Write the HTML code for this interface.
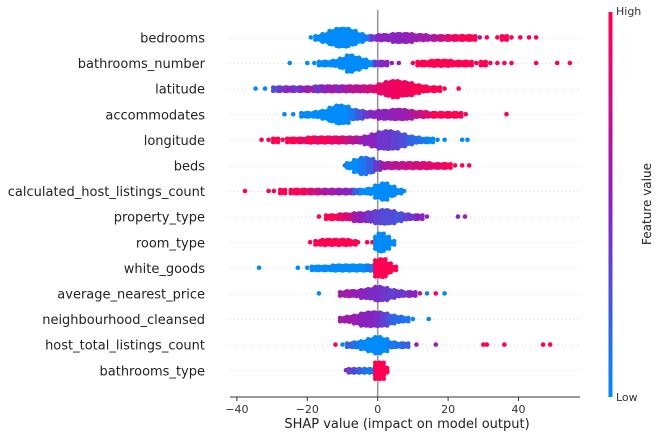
<!DOCTYPE html>
<html><head><meta charset="utf-8">
<style>
html,body{margin:0;padding:0;background:#fff;}
svg{display:block;font-family:"DejaVu Sans","Liberation Sans",sans-serif;}
</style></head>
<body>
<svg id="chart" width="662" height="438" viewBox="0 0 662 438">
<defs>
<linearGradient id="cb" x1="0" y1="1" x2="0" y2="0">
<stop offset="0" stop-color="#008bfb"/>
<stop offset="0.5" stop-color="#8a22c0"/>
<stop offset="1" stop-color="#ff0052"/>
</linearGradient>
</defs>
<g id="grid"></g>
<line x1="377.7" y1="10" x2="377.7" y2="397" stroke="#999" stroke-width="1.6"/>
<g id="dots"></g>
<g id="labels"></g>
<line x1="230" y1="397" x2="580" y2="397" stroke="#333" stroke-width="1"/>
<g id="xticks"></g>
<text x="407" y="428" font-size="13" text-anchor="middle" fill="#222">SHAP value (impact on model output)</text>
<rect x="608.5" y="12" width="4" height="385" fill="url(#cb)"/>
<text x="616" y="15" font-size="11" fill="#333">High</text>
<text x="616" y="401" font-size="11" fill="#333">Low</text>
<text x="0" y="0" font-size="12" fill="#222" text-anchor="middle" transform="translate(651,204) rotate(-90)">Feature value</text>
</svg>
<script>
const features = ["bedrooms","bathrooms_number","latitude","accommodates","longitude","beds","calculated_host_listings_count","property_type","room_type","white_goods","average_nearest_price","neighbourhood_cleansed","host_total_listings_count","bathrooms_type"];
const xTicks = [-40,-20,0,20,40];
const bedroomsBins = [[-19,1,0],[-17,2,0],[-15,4,0],[-13,7,0],[-11,9,0],[-9,9,0],[-7,7,0],[-5,4,0],[-3,2,0.1],[-1,2,0.4],[1,3,0.5],[3,3,0.5],[5,4,0.5],[7,4,0.5],[9,4,0.55],[11,3,0.55],[13,3,0.6],[15,2,0.6],[17,2,0.7],[19,2,0.8],[21,2,0.9],[23,2,0.95],[25,2,1],[27,2,1],[29,1,0.6],[31,1,1],[34,1,1],[36,2,1],[38,1,1],[40.5,1,1],[43,1,1],[45,1,1]];
const bathroomsNumberBins = [[-25,1,0],[-20,1,0],[-18,1,0],[-16,2,0],[-14,2,0],[-12,3,0],[-10,5,0],[-8,8,0],[-6,6,0],[-4,4,0],[-2,2,0],[0,2,0.4],[2,2,0.5],[4,1,0.5],[6,1,0.5],[10,1,1],[12,2,1],[14,2,1],[16,3,1],[18,3,1],[20,3,1],[22,2,1],[24,2,1],[26,2,1],[28,1,1],[30,2,1],[32,1,1],[34,1,1],[36,1,1],[38,1,1],[45,1,1],[51,1,1],[54.6,1,1]];
const latitudeBins = [[-34.7,1,0],[-32,1,0],[-29,2,0.3],[-27,2,0.4],[-25,2,0.5],[-23,2,0.4],[-21,2,0.5],[-19,2,0.6],[-17,3,0.4],[-15,3,0.5],[-13,3,0.6],[-11,3,0.5],[-9,3,0.6],[-7,3,0.7],[-5,3,0.7],[-3,3,0.8],[-1,3,0.85],[1,5,0.9],[3,7,0.9],[5,8,0.95],[7,7,0.95],[9,6,0.95],[11,4,1],[13,3,1],[15,2,1],[17,2,1],[19,1,1],[23,1,1]];
const accommodatesBins = [[-26.5,1,0],[-24,1,0],[-21,2,0],[-19,2,0],[-17,3,0],[-15,4,0],[-13,7,0],[-11,9,0],[-9,8,0],[-7,5,0.1],[-5,4,0.25],[-3,3,0.4],[-1,3,0.5],[1,4,0.5],[3,4,0.5],[5,5,0.55],[7,5,0.55],[9,4,0.6],[11,3,0.7],[13,3,0.8],[15,2,0.9],[17,2,1],[19,2,1],[21,2,1],[23,2,1],[25,1,1],[36.6,1,1]];
const longitudeBins = [[-33,1,1],[-31,1,1],[-29,2,1],[-27,1,1],[-25,2,1],[-23,2,1],[-21,2,0.9],[-19,3,1],[-17,3,0.9],[-15,3,1],[-13,3,0.9],[-11,3,0.9],[-9,3,0.8],[-7,3,0.7],[-5,3,0.6],[-3,4,0.5],[-1,6,0.5],[1,8,0.4],[3,9,0.4],[5,8,0.35],[7,6,0.3],[9,4,0.2],[11,3,0.15],[13,2,0.1],[15,2,0],[17,1,0],[19,1,0],[24,1,0],[25.5,1,0]];
const bedsBins = [[-9.3,1,0.2],[-8,3,0],[-6,6,0],[-4,8,0.1],[-2,7,0.2],[0,4,0.4],[2,3,0.6],[4,3,0.7],[6,3,0.7],[8,3,0.75],[10,3,0.8],[12,3,0.8],[14,3,0.85],[16,2,0.9],[18,2,0.9],[20,2,1],[22,1,1],[24,1,1],[26,1,1]];
const calcHostBins = [[-37.7,1,1],[-31,1,1],[-29.5,1,1],[-27,2,1],[-24,2,1],[-22,2,1],[-20,2,0.9],[-18,2,0.8],[-16,2,0.7],[-14,2,0.6],[-12,2,0.6],[-10,2,0.5],[-8,2,0.5],[-6,2,0.2],[-4,2,0],[-2,3,0],[0,6,0],[2,8,0],[4,5,0],[6,2,0],[7.5,1,0]];
const propertyTypeBins = [[-16.7,1,1],[-14,2,1],[-12,2,1],[-10,3,0.9],[-8,3,0.8],[-6,4,0.6],[-4,4,0.5],[-2,5,0.4],[0,6,0.35],[2,7,0.3],[4,6,0.3],[6,4,0.25],[8,3,0.35],[10,2,0.4],[12,2,0.5],[14,1,0.5],[22.8,1,0.5],[24.8,1,0.6]];
const roomTypeBins = [[-19.2,1,1],[-17,2,1],[-15,3,1],[-13,3,1],[-11,3,1],[-9,3,1],[-7,2,1],[-5.6,1,1],[-3,1,1],[-1.5,1,1],[0,6,0],[1,9,0],[2.5,6,0],[4,2,0]];
const whiteGoodsBins = [[-33.7,1,0],[-22.7,1,0],[-20,1,0],[-18,2,0],[-16,2,0],[-14,2,0],[-12,3,0],[-10,3,0],[-8,3,0],[-6,3,0],[-4,3,0],[-2,3,0.1],[0,8,1],[1.5,9,1],[3,5,1],[4.5,2,1]];
const avgPriceBins = [[-16.7,1,0],[-10,2,0.6],[-8,3,0.6],[-6,3,0.55],[-4,4,0.5],[-2,5,0.45],[0,7,0.45],[2,6,0.4],[4,4,0.35],[6,3,0.4],[8,2,0.4],[10,2,0.5],[12,1,0.7],[14,1,0.1],[16.5,1,1],[19,1,0]];
const neighbourhoodBins = [[-10,2,0.6],[-8,3,0.6],[-6,4,0.55],[-4,6,0.5],[-2,7,0.5],[0,7,0.45],[2,6,0.35],[4,4,0.2],[6,3,0.15],[8,2,0.1],[10,1,0],[14.5,1,0]];
const hostTotalBins = [[-12,1,1],[-10,1,0],[-8,2,0.2],[-6,3,0.1],[-4,4,0],[-2,6,0],[0,8,0],[2,6,0],[4,3,0.1],[6,2,0.1],[8,2,0.2],[11,1,0.6],[16.5,1,0.6],[30,1,1],[31,1,1],[36,1,1],[47,1,1],[49,1,1]];
const bathroomsTypeBins = [[-9,1,0.5],[-7.5,2,0.35],[-6,2,0.3],[-4.5,2,0.2],[-3,2,0.1],[-1.5,2,0.1],[0,8,1],[1,8,1],[2,3,1]];
const allBins = [bedroomsBins,bathroomsNumberBins,latitudeBins,accommodatesBins,longitudeBins,bedsBins,calcHostBins,propertyTypeBins,roomTypeBins,whiteGoodsBins,avgPriceBins,neighbourhoodBins,hostTotalBins,bathroomsTypeBins];

const NS = "http://www.w3.org/2000/svg";
function xScale(v){ return 377.7 + v*3.52; }
function yRow(i){ return 38 + i*25.6; }
function colorOf(c){
  const stops=[[0,[0,139,251]],[0.5,[138,34,192]],[1,[255,0,82]]];
  let a=stops[0],b=stops[1];
  if(c>0.5){a=stops[1];b=stops[2];}
  const t=(c-a[0])/(b[0]-a[0]);
  const rgb=a[1].map((v,k)=>Math.round(v+(b[1][k]-v)*t));
  return "rgb("+rgb.join(",")+")";
}
const grid=document.getElementById("grid");
const dots=document.getElementById("dots");
const labels=document.getElementById("labels");
const xt=document.getElementById("xticks");
features.forEach((f,i)=>{
  const y=yRow(i);
  const ln=document.createElementNS(NS,"line");
  ln.setAttribute("x1",230);ln.setAttribute("x2",580);ln.setAttribute("y1",y);ln.setAttribute("y2",y);
  ln.setAttribute("stroke","#ccc");ln.setAttribute("stroke-width","0.8");ln.setAttribute("stroke-dasharray","1,3");
  
  
  grid.appendChild(ln);
  const t=document.createElementNS(NS,"text");
  t.setAttribute("x",205);t.setAttribute("y",y+4.5);t.setAttribute("text-anchor","end");
  t.setAttribute("font-size","13");t.setAttribute("fill","#222");
  t.textContent=f;
  
  
  labels.appendChild(t);
  allBins[i].forEach(b=>{
    const n=b[1];
    const offs = n>1 ? [-0.7,0,0.7] : [0];
    for(let k=0;k<n;k++){
      offs.forEach((o,j)=>{
        const dy=(k-(n-1)/2)*2.1 + (j===1?0:((k%2)?0.6:-0.6));
        const c=document.createElementNS(NS,"circle");
        c.setAttribute("cx",xScale(b[0]+o));
        c.setAttribute("cy",y+dy);
        c.setAttribute("r",2.3);
        c.setAttribute("fill",colorOf(b[2]));
        
        
        dots.appendChild(c);
      });
    }
  });
});
xTicks.forEach(v=>{
  const x=xScale(v);
  const l=document.createElementNS(NS,"line");
  l.setAttribute("x1",x);l.setAttribute("x2",x);l.setAttribute("y1",397);l.setAttribute("y2",401);
  l.setAttribute("stroke","#333");
  
  
  xt.appendChild(l);
  const t=document.createElementNS(NS,"text");
  t.setAttribute("x",x);t.setAttribute("y",413);t.setAttribute("text-anchor","middle");
  t.setAttribute("font-size","11");t.setAttribute("fill","#333");
  t.textContent=v<0?"\u2212"+Math.abs(v):String(v);
  
  
  xt.appendChild(t);
});
</script>
</body></html>
